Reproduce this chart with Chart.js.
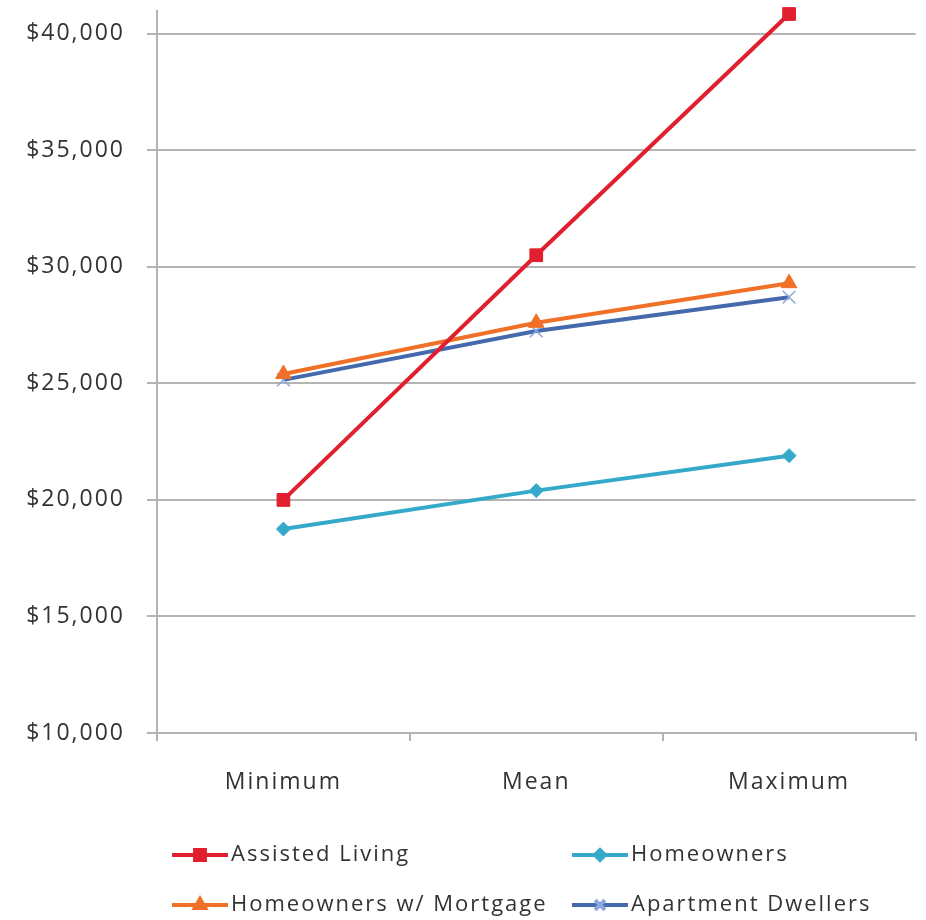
<!DOCTYPE html>
<html>
<head>
<meta charset="utf-8">
<script src="https://cdn.jsdelivr.net/npm/chart.js@4"></script>
<style>
  html, body { margin: 0; padding: 0; background: #fff; }
  #wrap { width: 926px; height: 920px; }
</style>
</head>
<body>
<div id="wrap"><canvas id="chart" width="926" height="920"></canvas></div>
<script>
const categories = ["Minimum", "Mean", "Maximum"];
const assistedLiving = [20000, 30500, 40850];
const homeowners = [18750, 20400, 21900];
const homeownersMortgage = [25400, 27600, 29300];
const apartmentDwellers = [25150, 27250, 28700];
const yTicks = [10000, 15000, 20000, 25000, 30000, 35000, 40000];

const FONT = "'Open Sans', 'DejaVu Sans', sans-serif";

// the original text is widely spaced, so spread letters a bit
const spacing = {
  id: "spacing",
  beforeDraw(chart) { chart.ctx.letterSpacing = "2px"; }
};

// legend drawn on the canvas in a 2x2 grid, like the original
const gridLegend = {
  id: "gridLegend",
  afterDraw(chart) {
    const ctx = chart.ctx;
    chart.data.datasets.forEach((ds, i) => {
      const col = i % 2, row = Math.floor(i / 2);
      const x0 = 172 + col * 400, y = 855 + row * 50;
      ctx.save();
      ctx.strokeStyle = ds.borderColor;
      ctx.lineWidth = 4;
      ctx.beginPath();
      ctx.moveTo(x0, y);
      ctx.lineTo(x0 + 56, y);
      ctx.stroke();
      ctx.fillStyle = ds.pointBackgroundColor;
      ctx.strokeStyle = ds.pointBorderColor;
      Chart.helpers.drawPoint(ctx, {
        pointStyle: ds.pointStyle,
        radius: ds.legendRadius,
        borderWidth: ds.pointBorderWidth
      }, x0 + 28, y);
      ctx.fillStyle = "#333";
      ctx.font = "22px " + FONT;
      ctx.letterSpacing = "2px";
      ctx.textBaseline = "middle";
      ctx.fillText(ds.label, x0 + 59, y);
      ctx.restore();
    });
  }
};

const ctx = document.getElementById("chart").getContext("2d");
new Chart(ctx, {
  type: "line",
  data: {
    labels: categories,
    datasets: [
      {
        label: "Assisted Living",
        data: assistedLiving,
        borderColor: "#e0202e",
        backgroundColor: "#e0202e",
        pointBackgroundColor: "#e0202e",
        pointBorderColor: "#e0202e",
        pointStyle: "rect",
        pointRadius: 9,
        legendRadius: 7,
        pointBorderWidth: 1
      },
      {
        label: "Homeowners",
        data: homeowners,
        borderColor: "#35a9c9",
        backgroundColor: "#35a9c9",
        pointBackgroundColor: "#35a9c9",
        pointBorderColor: "#35a9c9",
        pointStyle: "rectRot",
        pointRadius: 7,
        legendRadius: 5,
        pointBorderWidth: 1
      },
      {
        label: "Homeowners w/ Mortgage",
        data: homeownersMortgage,
        borderColor: "#f07028",
        backgroundColor: "#f07028",
        pointBackgroundColor: "#f07028",
        pointBorderColor: "#f07028",
        pointStyle: "triangle",
        pointRadius: 9,
        legendRadius: 6,
        pointBorderWidth: 1
      },
      {
        label: "Apartment Dwellers",
        data: apartmentDwellers,
        borderColor: "#4469ad",
        backgroundColor: "#8aa6dc",
        pointBackgroundColor: "#8aa6dc",
        pointBorderColor: "#8aa6dc",
        pointStyle: "crossRot",
        pointRadius: 9,
        legendRadius: 7,
        pointBorderWidth: 1.5
      }
    ]
  },
  options: {
    responsive: false,
    animation: false,
    clip: false,
    layout: { padding: { top: 8, right: 8, left: 0, bottom: 0 } },
    elements: { line: { borderWidth: 4, tension: 0 } },
    plugins: { legend: { display: false }, tooltip: { enabled: false } },
    scales: {
      x: {
        offset: true,
        afterFit(scale) { scale.height = 187; },
        grid: {
          offset: true,
          drawOnChartArea: false,
          drawTicks: true,
          tickLength: 8,
          color: "#b4b4b4",
          lineWidth: 2
        },
        border: { color: "#b4b4b4", width: 2 },
        ticks: {
          color: "#333",
          padding: 28,
          font: { family: FONT, size: 23 }
        }
      },
      y: {
        min: 10000,
        max: 41000,
        afterFit(scale) {
          scale.width = 157;
          scale.paddingTop = 0;
          scale.paddingBottom = 0;
        },
        afterBuildTicks(scale) {
          scale.ticks = yTicks.map(v => ({ value: v }));
        },
        grid: {
          color: "#b4b4b4",
          lineWidth: 2,
          tickLength: 10
        },
        border: { color: "#b4b4b4", width: 2 },
        ticks: {
          color: "#333",
          padding: 22,
          font: { family: FONT, size: 23 },
          callback: v => "$" + v.toLocaleString("en-US")
        }
      }
    }
  },
  plugins: [spacing, gridLegend]
});
</script>
</body>
</html>
